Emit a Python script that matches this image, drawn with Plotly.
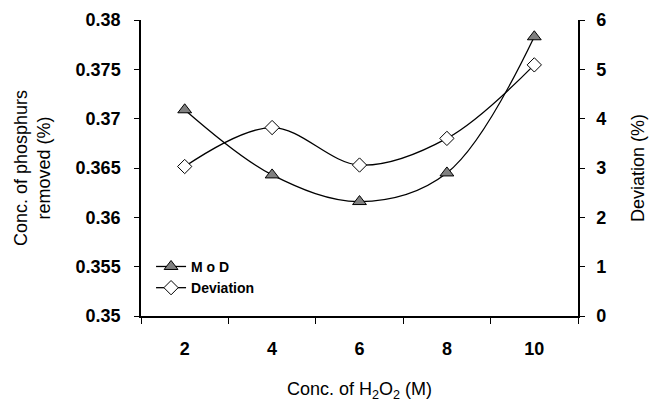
import plotly.graph_objects as go

h2o2_conc = [2, 4, 6, 8, 10]
mod_values = [0.3709, 0.3643, 0.3616, 0.3645, 0.3783]
deviation_values = [3.03, 3.82, 3.06, 3.60, 5.09]
boundary_ticks = [1, 3, 5, 7, 9, 11]
left_ticks = [0.35, 0.355, 0.36, 0.365, 0.37, 0.375, 0.38]
left_tick_text = ["0.35", "0.355", "0.36", "0.365", "0.37", "0.375", "0.38"]
right_ticks = [0, 1, 2, 3, 4, 5, 6]

FONT = "Arial, Liberation Sans, sans-serif"
tickfont = dict(family=FONT, size=18, color="black", weight="bold")
titlefont = dict(family=FONT, size=18, color="black")

fig = go.Figure()
fig.add_trace(go.Scatter(
    x=h2o2_conc, y=mod_values, name="M o D", mode="lines+markers",
    line=dict(color="black", width=1.3, shape="spline", smoothing=1),
    marker=dict(symbol="triangle-up", size=12, color="#808080",
                line=dict(color="black", width=1)),
    xaxis="x", yaxis="y",
))
fig.add_trace(go.Scatter(
    x=h2o2_conc, y=deviation_values, name="Deviation", mode="lines+markers",
    line=dict(color="black", width=1.3, shape="spline", smoothing=1),
    marker=dict(symbol="diamond", size=11, color="white",
                line=dict(color="black", width=1)),
    xaxis="x", yaxis="y2",
))

fig.update_layout(
    width=651, height=402,
    margin=dict(l=141, r=73, t=20, b=86, autoexpand=False),
    paper_bgcolor="white", plot_bgcolor="white",
    showlegend=True,
    legend=dict(x=0.023, y=0.22, xanchor="left", yanchor="top",
                bgcolor="rgba(0,0,0,0)", tracegroupgap=0,
                font=dict(family=FONT, size=14, color="black", weight="bold")),
    xaxis=dict(
        range=[1, 11], showgrid=False, zeroline=False, automargin=False,
        showline=True, linecolor="black", linewidth=1.5,
        tickmode="array", tickvals=h2o2_conc, ticktext=[str(v) for v in h2o2_conc],
        ticks="", tickfont=tickfont, ticklabelstandoff=16,
        minor=dict(tickmode="array", tickvals=boundary_ticks, ticks="outside",
                   ticklen=6, tickwidth=1.3, tickcolor="black", showgrid=False),
        title=dict(text="Conc. of H<sub>2</sub>O<sub>2</sub> (M)", font=titlefont, standoff=27),
    ),
    xaxis2=dict(
        matches="x", overlaying="x", anchor="y", side="bottom", automargin=False,
        showgrid=False, zeroline=False, showline=False, showticklabels=False,
        tickmode="array", tickvals=h2o2_conc, ticks="",
        minor=dict(tickmode="array", tickvals=boundary_ticks, ticks="inside",
                   ticklen=3, tickwidth=1.3, tickcolor="black", showgrid=False),
    ),
    yaxis=dict(
        range=[0.35, 0.38], showgrid=False, zeroline=False, automargin=False,
        showline=True, linecolor="black", linewidth=1.5,
        tickmode="array", tickvals=left_ticks, ticktext=left_tick_text,
        ticks="outside", ticklen=5, tickwidth=1.3, tickcolor="black",
        tickfont=tickfont, ticklabelstandoff=10,
        title=dict(text="Conc. of phosphurs<br>removed (%)", font=titlefont, standoff=20),
    ),
    yaxis3=dict(
        matches="y", overlaying="y", anchor="x", side="left", automargin=False,
        showgrid=False, zeroline=False, showline=False, showticklabels=False,
        tickmode="array", tickvals=left_ticks,
        ticks="inside", ticklen=3, tickwidth=1.3, tickcolor="black",
    ),
    yaxis2=dict(
        range=[0, 6], overlaying="y", side="right", anchor="x", automargin=False,
        showgrid=False, zeroline=False,
        showline=True, linecolor="black", linewidth=1.5,
        tickmode="array", tickvals=right_ticks,
        ticks="outside", ticklen=5, tickwidth=1.3, tickcolor="black",
        tickfont=tickfont, ticklabelstandoff=8,
        title=dict(text="Deviation (%)", font=titlefont, standoff=26),
    ),
    yaxis4=dict(
        matches="y2", overlaying="y", anchor="x", side="right", automargin=False,
        showgrid=False, zeroline=False, showline=False, showticklabels=False,
        tickmode="array", tickvals=right_ticks,
        ticks="inside", ticklen=3, tickwidth=1.3, tickcolor="black",
    ),
)

fig.write_html(
    "out.html",
    config={"displayModeBar": False},
    post_script="document.body.style.margin='0';document.body.style.padding='0';",
)
